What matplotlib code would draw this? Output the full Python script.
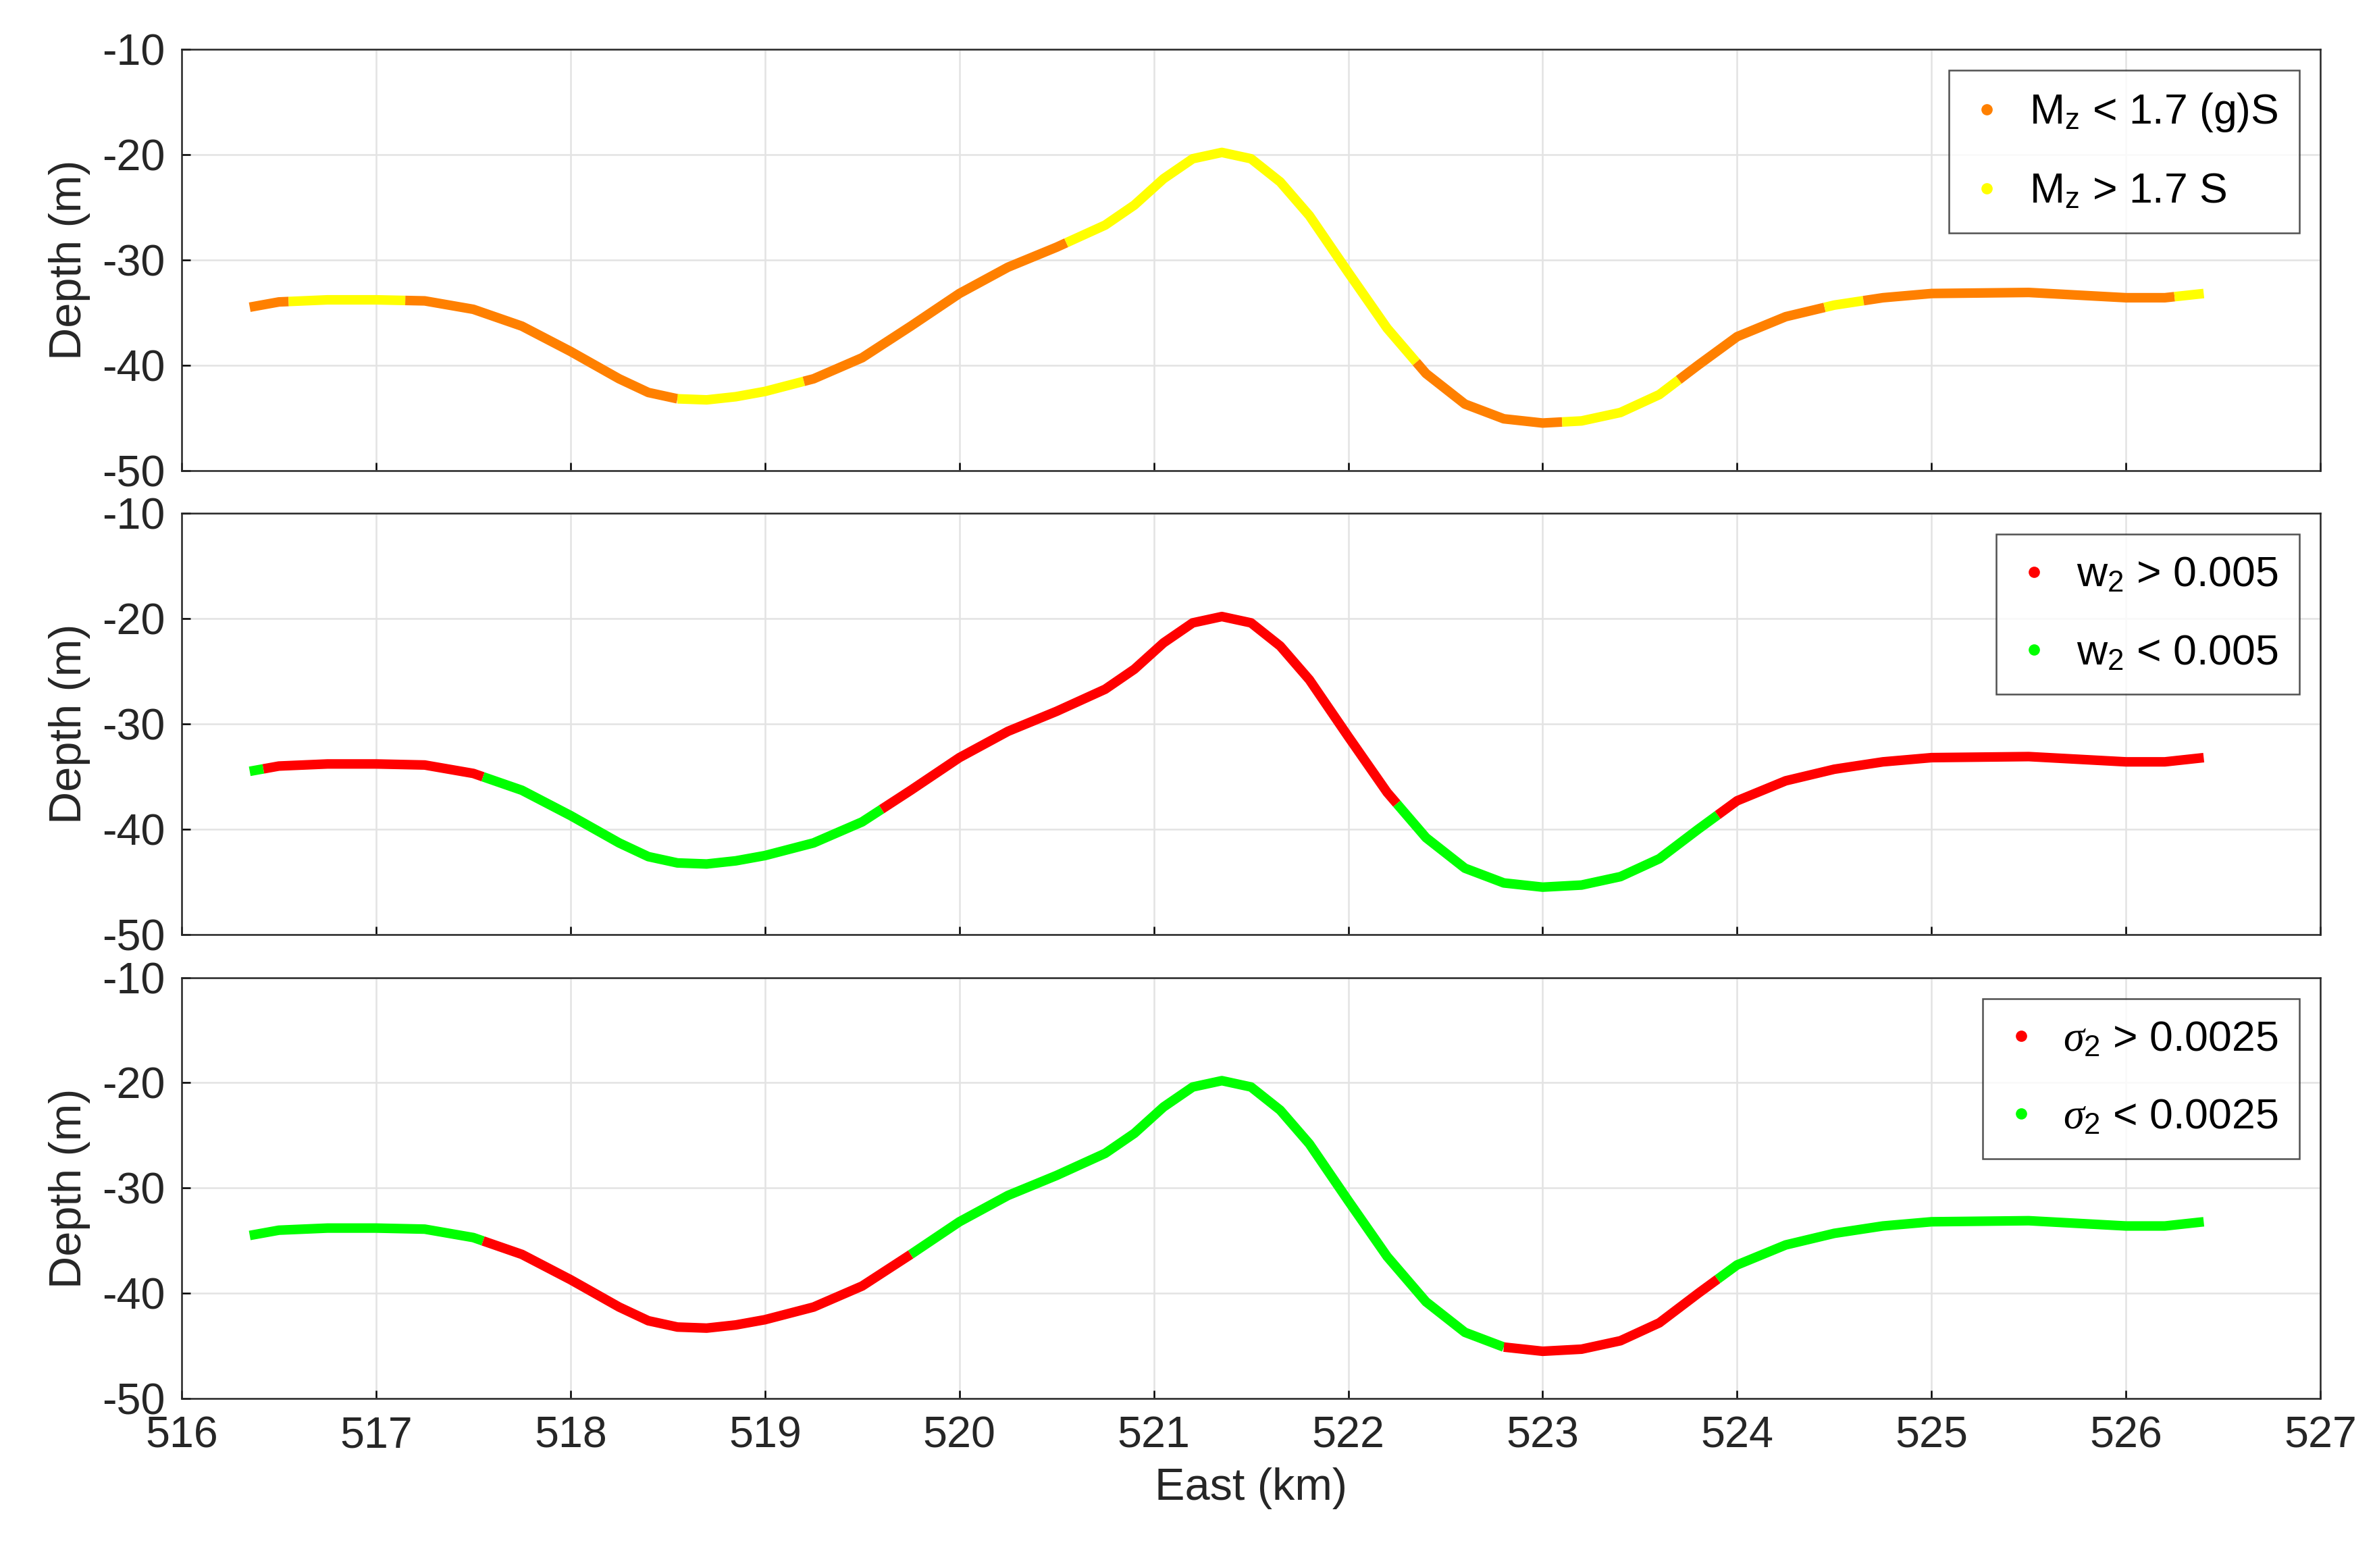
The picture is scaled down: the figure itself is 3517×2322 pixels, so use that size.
import numpy as np
import matplotlib
matplotlib.use("Agg")
import matplotlib.pyplot as plt
from matplotlib.lines import Line2D

plt.rcParams['font.family'] = ['Liberation Sans', 'DejaVu Sans']
plt.rcParams['axes.unicode_minus'] = False
plt.rcParams['mathtext.fontset'] = 'custom'
plt.rcParams['mathtext.rm'] = 'Liberation Sans'
plt.rcParams['mathtext.it'] = 'Liberation Serif:italic'

east = [516.35, 516.5, 516.75, 517.0, 517.25, 517.5, 517.75, 518.0, 518.25, 518.4,
        518.55, 518.7, 518.85, 519.0, 519.25, 519.5, 519.75, 520.0, 520.25, 520.5,
        520.75, 520.9, 521.05, 521.2, 521.35, 521.5, 521.65, 521.8, 522.0, 522.2,
        522.4, 522.6, 522.8, 523.0, 523.2, 523.4, 523.6, 523.8, 524.0, 524.25,
        524.5, 524.75, 525.0, 525.5, 526.0, 526.2, 526.4]
depth = [-34.5, -34.0, -33.8, -33.8, -33.9, -34.7, -36.3, -38.7, -41.3, -42.6,
         -43.2, -43.3, -43.0, -42.5, -41.3, -39.3, -36.3, -33.2, -30.7, -28.8,
         -26.7, -24.8, -22.3, -20.4, -19.8, -20.4, -22.6, -25.8, -31.2, -36.5,
         -40.8, -43.7, -45.1, -45.5, -45.3, -44.5, -42.8, -40.0, -37.3, -35.4,
         -34.3, -33.6, -33.2, -33.1, -33.6, -33.6, -33.2]

ORANGE, YELLOW, RED, GREEN = '#ff8000', '#ffff00', '#ff0000', '#00ff00'
breaks1 = [516.35, 516.55, 517.15, 518.55, 519.2, 520.55, 522.35, 523.1, 523.7, 524.45, 524.65, 526.25, 526.4]
cols1 = [0, 1, 0, 1, 0, 1, 0, 1, 0, 1, 0, 1]
breaks2 = [516.35, 516.42, 517.55, 519.6, 522.25, 523.9, 526.4]
cols2 = [1, 0, 1, 0, 1, 0]
breaks3 = [516.35, 517.55, 519.75, 522.8, 523.9, 526.4]
cols3 = [1, 0, 1, 0, 1]

panels = [
    (breaks1, cols1, [ORANGE, YELLOW], [r'M$_{\rm z}$ < 1.7 (g)S', r'M$_{\rm z}$ > 1.7 S']),
    (breaks2, cols2, [RED, GREEN], [r'w$_{\rm 2}$ > 0.005', r'w$_{\rm 2}$ < 0.005']),
    (breaks3, cols3, [RED, GREEN], [r'$\sigma_{\rm 2}$ > 0.0025', r'$\sigma_{\rm 2}$ < 0.0025']),
]

x = np.array(east); y = np.array(depth)
fig = plt.figure(figsize=(3517/300, 2322/300), dpi=300)
bottoms = [0.700, 0.404, 0.108]
for i, (br, cl, colors, labels) in enumerate(panels):
    ax = fig.add_axes([0.0765, bottoms[i], 0.9005, 0.2686])
    for j in range(len(cl)):
        a, b = br[j], br[j+1]
        m = (x > a) & (x < b)
        xs = np.concatenate([[a], x[m], [b]])
        ys = np.interp(xs, x, y)
        ax.plot(xs, ys, color=colors[cl[j]], lw=3.4, solid_capstyle='butt',
                solid_joinstyle='round')
    ax.set_xlim(516, 527)
    ax.set_ylim(-50, -10)
    ax.set_yticks([-50, -40, -30, -20, -10])
    ax.set_xticks(range(516, 528))
    ax.grid(True, color='#e3e3e3', lw=0.6)
    ax.set_axisbelow(True)
    ax.tick_params(labelsize=15.5, direction='in', length=3, width=0.6, pad=6,
                   labelcolor='#262626')
    for s in ax.spines.values():
        s.set_linewidth(0.6); s.set_color('#262626')
    ax.set_ylabel('Depth (m)', fontsize=16, color='#262626', labelpad=4)
    if i < 2:
        ax.set_xticklabels([])
    else:
        ax.set_xlabel('East (km)', fontsize=16, color='#262626')
    handles = [Line2D([], [], ls='none', marker='o', ms=3, color=c) for c in colors]
    leg = ax.legend(handles, labels, loc='upper right', fontsize=15, frameon=True,
                    fancybox=False, edgecolor='#262626', handlelength=0.8,
                    handletextpad=0.6, borderpad=0.5, labelspacing=0.9,
                    borderaxespad=0.5)
    leg.get_frame().set_linewidth(0.6)

fig.savefig('out.png', dpi=300)
